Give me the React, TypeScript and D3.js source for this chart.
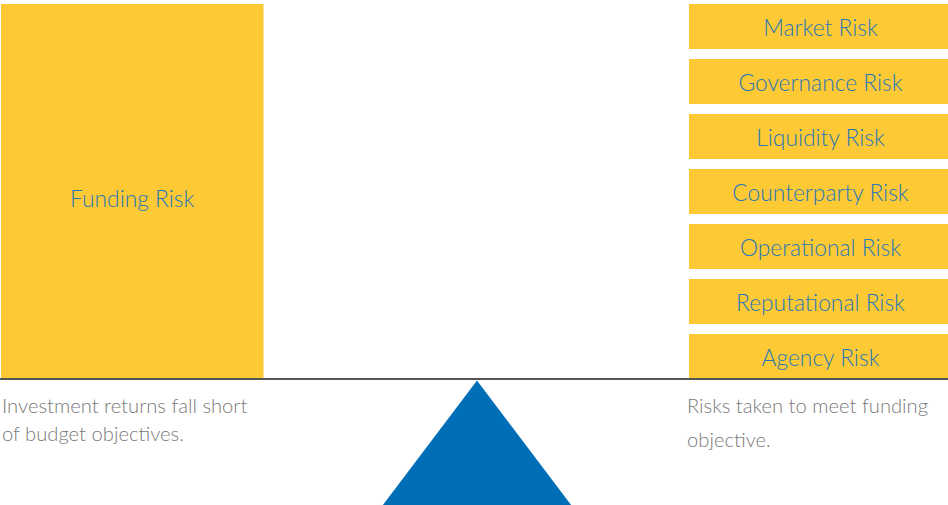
import React, { useEffect, useRef } from "react";
import * as d3 from "d3";

const W = 948;
const H = 505;

const leftRisk = ["Funding Risk"];
const rightRisks = [
  "Market Risk",
  "Governance Risk",
  "Liquidity Risk",
  "Counterparty Risk",
  "Operational Risk",
  "Reputational Risk",
  "Agency Risk",
];
const leftCaption = ["Investment returns fall short", "of budget objectives."];
const rightCaption = ["Risks taken to meet funding", "objective."];

const YELLOW = "#FDC935";
const BLUE_TEXT = "#2878B8";
const TRI_BLUE = "#006EB7";
const GRAY_TEXT = "#7A7A7A";
const FONT = "Lato, 'Open Sans', sans-serif";

export default function App() {
  const ref = useRef<SVGSVGElement | null>(null);

  useEffect(() => {
    document.body.style.margin = "0";
    const svg = d3.select(ref.current);
    svg.selectAll("*").remove();

    const baseY = 379;

    // left big box
    const xLeft = d3.scaleBand<string>().domain(leftRisk).range([1, 263.5]);
    const yTop = 4;
    svg
      .selectAll("rect.left")
      .data(leftRisk)
      .join("rect")
      .attr("class", "left")
      .attr("x", (d) => xLeft(d)!)
      .attr("y", yTop)
      .attr("width", xLeft.bandwidth())
      .attr("height", baseY - yTop)
      .attr("fill", YELLOW);
    svg
      .selectAll("text.left")
      .data(leftRisk)
      .join("text")
      .attr("class", "left")
      .attr("x", (d) => xLeft(d)! + xLeft.bandwidth() / 2)
      .attr("y", 207)
      .attr("text-anchor", "middle")
      .attr("fill", BLUE_TEXT)
      .attr("font-family", FONT)
      .attr("font-weight", 300)
      .attr("font-size", 22.8)
      .text((d) => d);

    // right stack of boxes (extends slightly past the right edge)
    const y = d3
      .scaleBand<string>()
      .domain(rightRisks)
      .range([4, baseY])
      .paddingInner(10 / 55)
      .paddingOuter(0);
    const x0 = 689;
    const x1 = 952;
    const g = svg.append("g");
    g.selectAll("rect")
      .data(rightRisks)
      .join("rect")
      .attr("x", x0)
      .attr("y", (d) => y(d)!)
      .attr("width", x1 - x0)
      .attr("height", y.bandwidth())
      .attr("fill", YELLOW);
    g.selectAll("text")
      .data(rightRisks)
      .join("text")
      .attr("x", (x0 + x1) / 2)
      .attr("y", (d) => y(d)! + y.bandwidth() / 2 + 9)
      .attr("text-anchor", "middle")
      .attr("fill", BLUE_TEXT)
      .attr("font-family", FONT)
      .attr("font-weight", 300)
      .attr("font-size", 22.8)
      .text((d) => d);

    // beam
    svg
      .append("line")
      .attr("x1", 0)
      .attr("x2", W)
      .attr("y1", baseY)
      .attr("y2", baseY)
      .attr("stroke", "#555555")
      .attr("stroke-width", 2.2);

    // fulcrum
    const apexX = 477;
    const apexY = 380.5;
    const halfW = 94.5;
    const hgt = 125;
    const tri = d3.line()([
      [apexX, apexY],
      [apexX + halfW * ((H + 2 - apexY) / hgt), H + 2],
      [apexX - halfW * ((H + 2 - apexY) / hgt), H + 2],
    ]);
    svg.append("path").attr("d", tri + "Z").attr("fill", TRI_BLUE);

    // captions
    svg
      .append("g")
      .selectAll("text")
      .data(leftCaption)
      .join("text")
      .attr("x", 2)
      .attr("y", (_, i) => 413 + i * 28)
      .attr("fill", GRAY_TEXT)
      .attr("font-family", FONT)
      .attr("font-weight", 300)
      .attr("font-size", 20.2)
      .text((d) => d);
    svg
      .append("g")
      .selectAll("text")
      .data(rightCaption)
      .join("text")
      .attr("x", 687)
      .attr("y", (_, i) => 413 + i * 34)
      .attr("fill", GRAY_TEXT)
      .attr("font-family", FONT)
      .attr("font-weight", 300)
      .attr("font-size", 20.2)
      .text((d) => d);
  }, []);

  return (
    <svg
      ref={ref}
      width={W}
      height={H}
      style={{ position: "absolute", left: 0, top: 0, display: "block", background: "#fff" }}
    />
  );
}
